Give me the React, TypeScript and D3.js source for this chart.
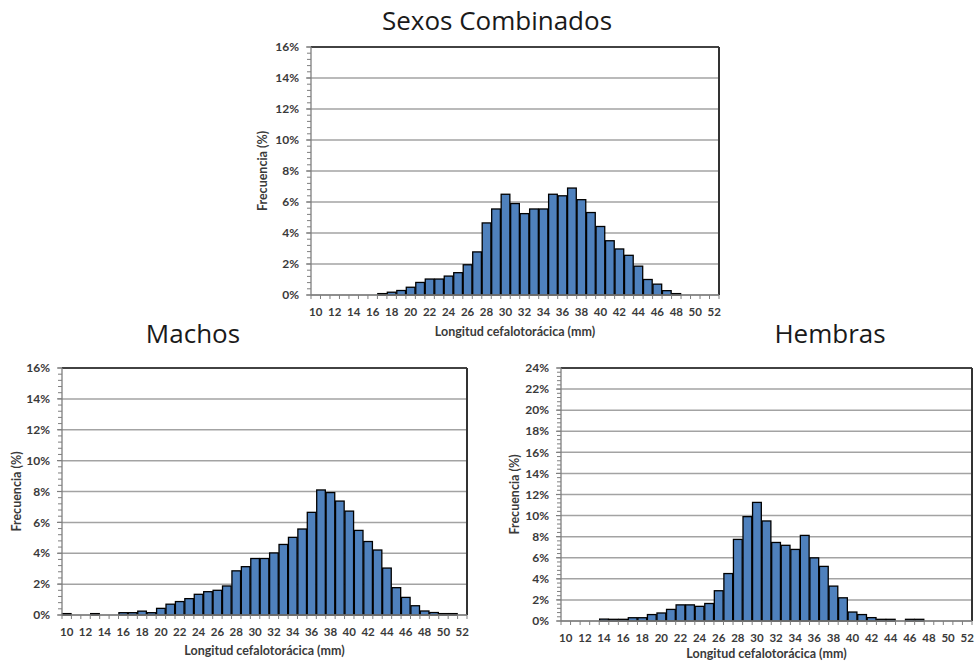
import React from "react";
import * as d3 from "d3";

// Carapace length classes (mm)
const categories: number[] = [
  10, 11, 12, 13, 14, 15, 16, 17, 18, 19, 20, 21, 22, 23, 24, 25, 26, 27, 28, 29, 30,
  31, 32, 33, 34, 35, 36, 37, 38, 39, 40, 41, 42, 43, 44, 45, 46, 47, 48, 49, 50, 51, 52,
];

// Labelled x ticks
const xTickLabels: number[] = [
  10, 12, 14, 16, 18, 20, 22, 24, 26, 28, 30, 32, 34, 36, 38, 40, 42, 44, 46, 48, 50, 52,
];

// Frequency (%) per length class
const combinados: number[] = [
  0, 0, 0, 0, 0, 0, 0, 0.09, 0.18, 0.29, 0.5, 0.81, 1.03, 1.03, 1.22, 1.44, 1.95, 2.78,
  4.65, 5.55, 6.5, 5.9, 5.25, 5.55, 5.55, 6.5, 6.4, 6.9, 6.15, 5.32, 4.42, 3.5, 2.97,
  2.56, 1.86, 1.0, 0.7, 0.28, 0.09, 0, 0, 0, 0,
];

const machos: number[] = [
  0.09, 0, 0, 0.09, 0, 0, 0.15, 0.15, 0.25, 0.15, 0.43, 0.7, 0.87, 1.06, 1.34, 1.51,
  1.6, 1.88, 2.86, 3.13, 3.66, 3.66, 4.02, 4.57, 5.03, 5.57, 6.65, 8.1, 7.93, 7.38,
  6.73, 5.48, 4.76, 4.21, 3.04, 1.77, 1.14, 0.6, 0.26, 0.16, 0.09, 0.09, 0,
];

const hembras: number[] = [
  0, 0, 0, 0, 0.18, 0.16, 0.16, 0.31, 0.31, 0.61, 0.76, 1.1, 1.53, 1.53, 1.39, 1.66,
  2.87, 4.5, 7.74, 9.9, 11.25, 9.49, 7.45, 7.18, 6.79, 8.12, 5.99, 5.18, 3.31, 2.2,
  0.85, 0.61, 0.32, 0.16, 0.16, 0, 0.16, 0.16, 0, 0, 0, 0, 0,
];

const LABEL_FONT = "Lato, 'Liberation Sans', sans-serif";
const TITLE_FONT = "'Open Sans', 'Noto Sans', sans-serif";

type PanelProps = {
  left: number;
  right: number;
  top: number;
  bottom: number;
  yMax: number;
  values: number[];
  title: string;
  titleX: number;
  titleY: number;
  yTitleX: number;
  xTitleGap: number;
};

function Panel({ left, right, top, bottom, yMax, values, title, titleX, titleY, yTitleX, xTitleGap }: PanelProps) {
  const x = d3
    .scaleBand<number>()
    .domain(categories)
    .range([left, right])
    .paddingInner(0)
    .paddingOuter(0);
  const y = d3.scaleLinear().domain([0, yMax]).range([bottom, top]);
  const bw = x.bandwidth();
  const majors = y.ticks(yMax / 2);
  const minors = d3.range(0, yMax + 1e-6, 0.4);
  const cx = (left + right) / 2;
  const cy = (top + bottom) / 2;

  return (
    <g>
      <text
        x={titleX}
        y={titleY}
        textAnchor="middle"
        fontFamily={TITLE_FONT}
        fontSize={26}
        fill="#1a1a1a"
      >
        {title}
      </text>

      {/* horizontal gridlines */}
      {majors.map((t) => (
        <line key={"g" + t} x1={left} x2={right} y1={y(t)} y2={y(t)} stroke="#a3a3a3" strokeWidth={1.5} />
      ))}

      {/* plot frame: top and right */}
      <line x1={left} x2={right} y1={top} y2={top} stroke="#1a1a1a" strokeWidth={1.6} />
      <line x1={right} x2={right} y1={top} y2={bottom} stroke="#333" strokeWidth={2} />

      {/* bars */}
      {values.map((v, i) =>
        v > 0 ? (
          <rect
            key={"b" + i}
            x={(x(categories[i]) as number) + 0.4}
            y={y(v)}
            width={bw - 0.8}
            height={bottom - y(v)}
            fill="#4f81bd"
            stroke="#000"
            strokeWidth={1.3}
          />
        ) : null
      )}

      {/* y axis */}
      <line x1={left} x2={left} y1={top} y2={bottom} stroke="#7f7f7f" strokeWidth={1.3} />
      {minors.map((t) => (
        <line key={"m" + t} x1={left - 4} x2={left} y1={y(t)} y2={y(t)} stroke="#7f7f7f" strokeWidth={1} />
      ))}
      {majors.map((t) => (
        <line key={"t" + t} x1={left - 5} x2={left} y1={y(t)} y2={y(t)} stroke="#7f7f7f" strokeWidth={1.2} />
      ))}
      {majors.map((t) => (
        <text
          key={"l" + t}
          x={left - 12}
          y={y(t)}
          dy="0.35em"
          textAnchor="end"
          fontFamily={LABEL_FONT}
          fontWeight={700}
          fontSize={12}
          fill="#3a3a3a"
        >
          {d3.format(".0f")(t) + "%"}
        </text>
      ))}

      {/* x axis */}
      <line x1={left} x2={right} y1={bottom} y2={bottom} stroke="#7f7f7f" strokeWidth={1.3} />
      {categories.map((c) => (
        <line
          key={"xt" + c}
          x1={x(c) as number}
          x2={x(c) as number}
          y1={bottom}
          y2={bottom + 4}
          stroke="#7f7f7f"
          strokeWidth={1}
        />
      ))}
      <line x1={right} x2={right} y1={bottom} y2={bottom + 4} stroke="#7f7f7f" strokeWidth={1} />
      {xTickLabels.map((c) => (
        <text
          key={"xl" + c}
          x={(x(c) as number) + bw / 2}
          y={bottom + 21}
          textAnchor="middle"
          fontFamily={LABEL_FONT}
          fontWeight={700}
          fontSize={11.5}
          fill="#3a3a3a"
        >
          {c}
        </text>
      ))}

      <text
        x={cx}
        y={bottom + xTitleGap}
        textAnchor="middle"
        fontFamily={LABEL_FONT}
        fontWeight={700}
        fontSize={12.5}
        fill="#3a3a3a"
      >
        Longitud cefalotorácica (mm)
      </text>
      <text
        transform={`translate(${yTitleX},${cy}) rotate(-90)`}
        textAnchor="middle"
        dy="0.35em"
        fontFamily={LABEL_FONT}
        fontWeight={700}
        fontSize={12.5}
        fill="#3a3a3a"
      >
        Frecuencia (%)
      </text>
    </g>
  );
}

export default function App() {
  return (
    <svg
      width={974}
      height={663}
      viewBox="0 0 974 663"
      style={{ position: "absolute", left: 0, top: 0, background: "#fff" }}
    >
      <rect width={974} height={663} fill="#fff" />
      <Panel
        left={311}
        right={719}
        top={47}
        bottom={295}
        yMax={16}
        values={combinados}
        title="Sexos Combinados"
        titleX={497}
        titleY={30}
        yTitleX={263}
        xTitleGap={41}
      />
      <Panel
        left={62}
        right={467}
        top={368}
        bottom={615}
        yMax={16}
        values={machos}
        title="Machos"
        titleX={193}
        titleY={343}
        yTitleX={17}
        xTitleGap={40}
      />
      <Panel
        left={561}
        right={972}
        top={368}
        bottom={621}
        yMax={24}
        values={hembras}
        title="Hembras"
        titleX={830}
        titleY={343}
        yTitleX={515}
        xTitleGap={37}
      />
    </svg>
  );
}
